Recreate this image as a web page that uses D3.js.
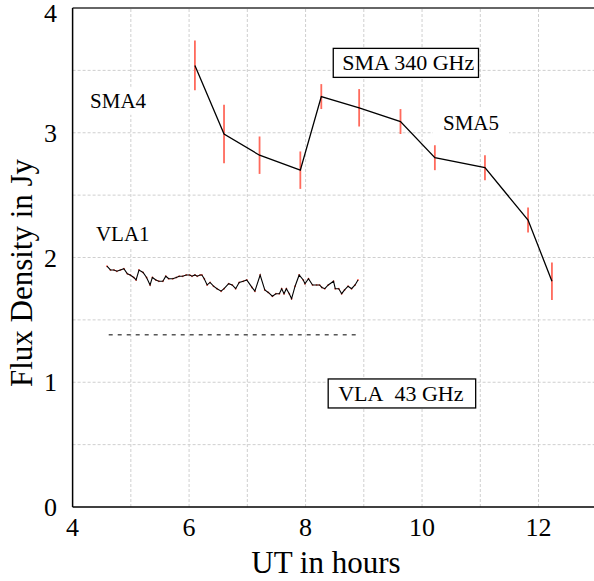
<!DOCTYPE html>
<html>
<head>
<meta charset="utf-8">
<script src="https://cdn.jsdelivr.net/npm/d3@7"></script>
<style>
  body { margin: 0; background: #fff; }
  text { font-family: "Liberation Serif", "Times New Roman", serif; }
</style>
</head>
<body>
<div id="chart"></div>
<script>
// SMA 340 GHz points (UT hours, flux Jy, error)
const smaTime = [6.10, 6.60, 7.21, 7.91, 8.27, 8.92, 9.63, 10.22, 11.08, 11.82, 12.23];
const smaFlux = [3.54, 2.99, 2.82, 2.70, 3.29, 3.20, 3.09, 2.80, 2.72, 2.30, 1.81];
const smaErr  = [0.20, 0.235, 0.15, 0.15, 0.10, 0.15, 0.10, 0.10, 0.10, 0.10, 0.15];

// VLA 43 GHz light curve
const vlaTime = [4.59, 4.65, 4.71, 4.76, 4.82, 4.88, 4.94, 4.99, 5.05, 5.09,
  5.14, 5.21, 5.27, 5.33, 5.37, 5.43, 5.48, 5.55, 5.60, 5.65,
  5.72, 5.78, 5.83, 5.89, 5.95, 6.01, 6.05, 6.10, 6.14, 6.19,
  6.22, 6.26, 6.31, 6.36, 6.42, 6.48, 6.55, 6.60, 6.68, 6.74,
  6.80, 6.86, 6.93, 6.99, 7.08, 7.13, 7.22, 7.30, 7.36, 7.43,
  7.49, 7.55, 7.59, 7.63, 7.67, 7.72, 7.76, 7.82, 7.89, 7.96,
  7.99, 8.05, 8.12, 8.19, 8.24, 8.28, 8.33, 8.39, 8.48, 8.51,
  8.57, 8.62, 8.67, 8.73, 8.79, 8.85, 8.90];
const vlaFlux = [1.93, 1.90, 1.90, 1.89, 1.90, 1.91, 1.87, 1.86, 1.84, 1.82,
  1.90, 1.88, 1.84, 1.78, 1.84, 1.82, 1.81, 1.81, 1.85, 1.83,
  1.83, 1.84, 1.85, 1.85, 1.86, 1.86, 1.85, 1.86, 1.85, 1.86,
  1.86, 1.83, 1.78, 1.80, 1.77, 1.75, 1.73, 1.75, 1.79, 1.78,
  1.75, 1.80, 1.81, 1.82, 1.76, 1.73, 1.86, 1.74, 1.72, 1.69,
  1.71, 1.71, 1.75, 1.71, 1.75, 1.71, 1.67, 1.77, 1.86, 1.82,
  1.79, 1.83, 1.78, 1.78, 1.78, 1.76, 1.75, 1.78, 1.81, 1.75,
  1.75, 1.71, 1.74, 1.77, 1.75, 1.78, 1.82];

// dashed reference level under the VLA curve
const vlaLevelTime = [4.62, 8.91];
const vlaLevelFlux = [1.38, 1.38];

const xTicks = [4, 6, 8, 10, 12];
const yTicks = [0, 1, 2, 3, 4];
const xGrid = [5, 6, 7, 8, 9, 10, 11, 12, 13];
const yGrid = [0.5, 1, 1.5, 2, 2.5, 3, 3.5];

const W = 594, H = 581;

const svg = d3.select("#chart").append("svg")
  .attr("width", W).attr("height", H);

const x = d3.scaleLinear().domain([4, 13.1]).range([72.6, 602.6]);
const y = d3.scaleLinear().domain([0, 4]).range([507, 8]);

// grid
svg.append("g").selectAll("line").data(xGrid).join("line")
  .attr("x1", d => x(d)).attr("x2", d => x(d))
  .attr("y1", y(0)).attr("y2", y(4))
  .attr("stroke", "#cfcfcf").attr("stroke-width", 1)
  .attr("stroke-dasharray", "3,2");
svg.append("g").selectAll("line").data(yGrid).join("line")
  .attr("x1", x(4)).attr("x2", W)
  .attr("y1", d => y(d)).attr("y2", d => y(d))
  .attr("stroke", "#cfcfcf").attr("stroke-width", 1)
  .attr("stroke-dasharray", "3,2");

// frame
svg.append("line").attr("x1", x(4)).attr("x2", W).attr("y1", y(4)).attr("y2", y(4))
  .attr("stroke", "#333").attr("stroke-width", 1.5);
svg.append("line").attr("x1", x(4)).attr("x2", W).attr("y1", y(0)).attr("y2", y(0))
  .attr("stroke", "#000").attr("stroke-width", 1.5);
svg.append("line").attr("x1", x(4)).attr("x2", x(4)).attr("y1", y(0)).attr("y2", y(4))
  .attr("stroke", "#000").attr("stroke-width", 1.5);

// tick labels
svg.append("g").selectAll("text").data(xTicks).join("text")
  .attr("x", d => x(d)).attr("y", 536)
  .attr("text-anchor", "middle")
  .attr("font-size", 26)
  .text(d => d);
svg.append("g").selectAll("text").data(yTicks).join("text")
  .attr("x", 57).attr("y", d => Math.max(y(d) + 9, 22))
  .attr("text-anchor", "end")
  .attr("font-size", 26)
  .text(d => d);

// axis titles
svg.append("text")
  .attr("x", 326).attr("y", 573)
  .attr("text-anchor", "middle")
  .attr("font-size", 31)
  .text("UT in hours");
svg.append("text")
  .attr("transform", "translate(32,273) rotate(-90)")
  .attr("text-anchor", "middle")
  .attr("font-size", 31)
  .text("Flux Density in Jy");

// plain labels with white backing
const plainLabels = [
  {t: "SMA4", x: 4.30, y: 3.20},
  {t: "VLA1", x: 4.40, y: 2.13},
  {t: "SMA5", x: 10.36, y: 3.02}
];
plainLabels.forEach(l => {
  const g = svg.append("g");
  const txt = g.append("text")
    .attr("x", x(l.x)).attr("y", y(l.y))
    .attr("font-size", 21)
    .text(l.t);
  const b = txt.node().getBBox();
  g.insert("rect", "text")
    .attr("x", b.x - 10).attr("y", b.y - 2)
    .attr("width", b.width + 20).attr("height", b.height + 4)
    .attr("fill", "#fff");
});

// boxed labels
const boxLabels = [
  {t: "SMA 340 GHz", x: 8.63, y: 3.50, padL: 9, padR: 4},
  {t: "VLA\u00a0 43 GHz", x: 8.56, y: 0.85, padL: 10, padR: 12}
];
boxLabels.forEach(l => {
  const g = svg.append("g");
  const txt = g.append("text")
    .attr("x", x(l.x)).attr("y", y(l.y))
    .attr("font-size", 22)
    .text(l.t);
  const b = txt.node().getBBox();
  g.insert("rect", "text")
    .attr("x", b.x - l.padL).attr("y", b.y - 2)
    .attr("width", b.width + l.padL + l.padR).attr("height", b.height + 4)
    .attr("fill", "#fff")
    .attr("stroke", "#000").attr("stroke-width", 1.3);
});

// VLA dashed level
svg.append("path")
  .datum(vlaLevelTime.map((t, i) => [t, vlaLevelFlux[i]]))
  .attr("d", d3.line().x(d => x(d[0])).y(d => y(d[1])))
  .attr("fill", "none").attr("stroke", "#000")
  .attr("stroke-width", 1).attr("stroke-dasharray", "4,5");

// VLA curve
const vla = vlaTime.map((t, i) => ({t, f: vlaFlux[i]}));
svg.append("g").selectAll("circle").data(vla).join("circle")
  .attr("cx", d => x(d.t)).attr("cy", d => y(d.f))
  .attr("r", 1).attr("fill", "#ff6a5c");
svg.append("path").datum(vla)
  .attr("d", d3.line().x(d => x(d.t)).y(d => y(d.f)))
  .attr("fill", "none").attr("stroke", "#000").attr("stroke-width", 1.1);

// SMA error bars and curve
const sma = smaTime.map((t, i) => ({t, f: smaFlux[i], e: smaErr[i]}));
svg.append("g").selectAll("line").data(sma).join("line")
  .attr("x1", d => x(d.t)).attr("x2", d => x(d.t))
  .attr("y1", d => y(d.f + d.e)).attr("y2", d => y(d.f - d.e))
  .attr("stroke", "#ff6a5c").attr("stroke-width", 1.8);
svg.append("path").datum(sma)
  .attr("d", d3.line().x(d => x(d.t)).y(d => y(d.f)))
  .attr("fill", "none").attr("stroke", "#000").attr("stroke-width", 1.3);
</script>
</body>
</html>
